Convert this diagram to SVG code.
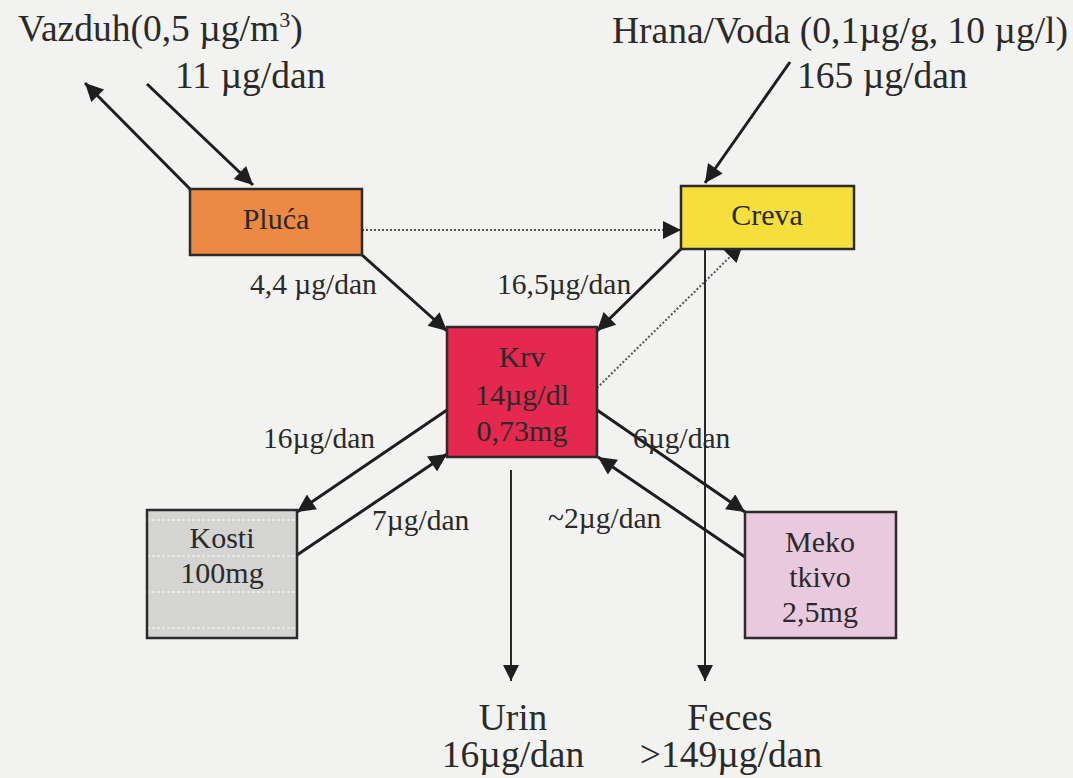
<svg xmlns="http://www.w3.org/2000/svg" width="1073" height="778" viewBox="0 0 1073 778">
<defs>
<marker id="ah" viewBox="0 0 10 10" refX="10" refY="5" markerWidth="7" markerHeight="6" markerUnits="strokeWidth" orient="auto"><path d="M0,0 L10,5 L0,10 z" fill="#1e1e1e"/></marker>
<marker id="ahs" viewBox="0 0 10 10" refX="10" refY="5" markerWidth="10" markerHeight="8" markerUnits="strokeWidth" orient="auto"><path d="M0,0 L10,5 L0,10 z" fill="#1e1e1e"/></marker>
<marker id="ahd" viewBox="0 0 10 10" refX="10" refY="5" markerWidth="11" markerHeight="9" markerUnits="strokeWidth" orient="auto"><path d="M0,0 L10,5 L0,10 z" fill="#1e1e1e"/></marker>
<pattern id="stripe" width="10" height="36" patternUnits="userSpaceOnUse" x="147" y="510"><rect width="10" height="36" fill="#d4d4d2"/><line x1="0" y1="10" x2="10" y2="10" stroke="#f0f0ee" stroke-width="1.5" stroke-dasharray="3 2"/></pattern>
</defs>
<style>
.t{font-family:"Liberation Serif","Times New Roman",serif;fill:#2a2a2a}
.big{font-size:37.5px}
.mid{font-size:29.5px}
.nd{font-size:30px;text-anchor:middle}
.box{stroke:#2b2b2b;stroke-width:2.5}
.ln{stroke:#1e1e1e;stroke-width:3;fill:none}
.thin{stroke:#2a2a2a;stroke-width:2;fill:none}
.dot{stroke:#555;stroke-width:2;stroke-dasharray:2 2;fill:none}
</style>
<rect width="1073" height="778" fill="#f2f2f0"/>

<g id="connectors">
<line class="ln" x1="190" y1="189" x2="85" y2="83" marker-end="url(#ah)"/>
<line class="ln" x1="147" y1="84" x2="253" y2="185" marker-end="url(#ah)"/>
<line class="ln" x1="790" y1="62" x2="705" y2="183" marker-end="url(#ah)"/>
<line class="dot" x1="362" y1="230" x2="681" y2="230" marker-end="url(#ahd)"/>
<line class="ln" x1="362" y1="255" x2="447" y2="331" marker-end="url(#ah)"/>
<line class="ln" x1="681" y1="249" x2="597" y2="331" marker-end="url(#ah)"/>
<line class="dot" x1="597" y1="388" x2="743" y2="244" marker-end="url(#ahd)"/>
<line class="thin" x1="705" y1="237" x2="705" y2="681" marker-end="url(#ahs)"/>
<line class="thin" x1="511" y1="470" x2="511" y2="681" marker-end="url(#ahs)"/>
<line class="ln" x1="447" y1="410" x2="297" y2="512" marker-end="url(#ah)"/>
<line class="ln" x1="297" y1="555" x2="447" y2="454" marker-end="url(#ah)"/>
<line class="ln" x1="597" y1="410" x2="745" y2="512" marker-end="url(#ah)"/>
<line class="ln" x1="745" y1="557" x2="598" y2="457" marker-end="url(#ah)"/>
</g>

<g id="pluca"><rect class="box" x="190" y="189" width="172" height="66" fill="#ec8a45"/><text class="t nd" x="276" y="229">Pluća</text></g>
<g id="creva"><rect class="box" x="681" y="186" width="173" height="63" fill="#f5df3c"/><text class="t nd" x="767" y="225">Creva</text></g>
<g id="krv"><rect class="box" x="447" y="327" width="150" height="130" fill="#e4284e"/><text class="t nd" x="522" y="367">Krv</text><text class="t nd" x="522" y="405">14µg/dl</text><text class="t nd" x="522" y="441">0,73mg</text></g>
<g id="kosti"><rect class="box" x="147" y="510" width="150" height="128" fill="url(#stripe)"/><text class="t nd" x="222" y="548">Kosti</text><text class="t nd" x="222" y="583">100mg</text></g>
<g id="meko"><rect class="box" x="745" y="512" width="151" height="126" fill="#e9c9dd"/><text class="t nd" x="820" y="552">Meko</text><text class="t nd" x="820" y="587">tkivo</text><text class="t nd" x="820" y="622">2,5mg</text></g>

<g id="labels">
<text class="t big" x="18" y="41">Vazduh(0,5 µg/m<tspan font-size="22" dy="-14">3</tspan><tspan dy="14">)</tspan></text>
<text class="t big" x="175" y="88">11 µg/dan</text>
<text class="t big" x="612" y="43">Hrana/Voda (0,1µg/g, 10 µg/l)</text>
<text class="t big" x="797" y="88">165 µg/dan</text>
<text class="t mid" x="250" y="294">4,4 µg/dan</text>
<text class="t mid" x="497" y="294">16,5µg/dan</text>
<text class="t mid" x="263" y="448">16µg/dan</text>
<text class="t mid" x="633" y="448">6µg/dan</text>
<text class="t mid" x="372" y="530">7µg/dan</text>
<text class="t mid" x="548" y="528">~2µg/dan</text>
<text class="t big" x="513" y="730" text-anchor="middle">Urin</text>
<text class="t big" x="513" y="767" text-anchor="middle">16µg/dan</text>
<text class="t big" x="730" y="730" text-anchor="middle">Feces</text>
<text class="t big" x="731" y="767" text-anchor="middle">&gt;149µg/dan</text>
</g>
</svg>
